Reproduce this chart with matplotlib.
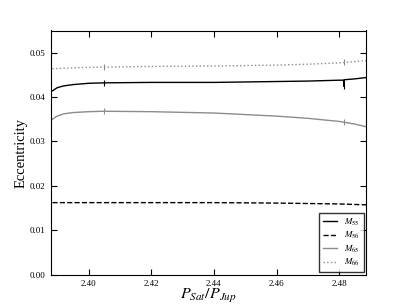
import matplotlib
matplotlib.use('Agg')
import matplotlib.pyplot as plt
import numpy as np

plt.rcParams['font.family'] = 'Liberation Serif'
plt.rcParams['mathtext.fontset'] = 'stix'

# period ratio samples
x55 = [2.3885, 2.390, 2.392, 2.395, 2.400, 2.405, 2.42, 2.44, 2.46, 2.47, 2.48, 2.4814, 2.4815, 2.4816, 2.485, 2.4886]
e55 = [0.0414, 0.0421, 0.0425, 0.0428, 0.0431, 0.0432, 0.0433, 0.0433, 0.0435, 0.0436, 0.0438, 0.0438, 0.0424, 0.0439, 0.0441, 0.0444]

x56 = [2.3885, 2.40, 2.42, 2.44, 2.46, 2.48, 2.4886]
e56 = [0.0162, 0.0162, 0.0162, 0.0162, 0.0161, 0.0159, 0.0157]

x65 = [2.3885, 2.390, 2.392, 2.395, 2.400, 2.405, 2.42, 2.44, 2.46, 2.47, 2.48, 2.485, 2.4886]
e65 = [0.0350, 0.0357, 0.0362, 0.0365, 0.0367, 0.0368, 0.0367, 0.0364, 0.0357, 0.0352, 0.0345, 0.0339, 0.0333]

x66 = [2.3885, 2.40, 2.42, 2.44, 2.46, 2.47, 2.48, 2.485, 2.4886]
e66 = [0.0464, 0.0467, 0.0469, 0.0470, 0.0472, 0.0474, 0.0477, 0.0480, 0.0482]

# short vertical marks along the curves
mark_x = [2.405, 2.4815]

fig = plt.figure(figsize=(4.07, 3.05), dpi=100)
ax = fig.add_axes([0.125, 0.10, 0.775, 0.80])

ax.plot(x55, e55, '-', color='black', lw=1.0, label='$M_{55}$')
ax.plot(x56, e56, '--', color='black', lw=1.0, label='$M_{56}$')
ax.plot(x65, e65, '-', color='0.55', lw=1.0, label='$M_{65}$')
ax.plot(x66, e66, ':', color='0.55', lw=1.0, label='$M_{66}$')

for xs, es, c in [(x55, e55, 'black'), (x65, e65, '0.55'), (x66, e66, '0.55')]:
    ax.plot(mark_x, np.interp(mark_x, xs, es), '|', color=c, ms=4, mew=0.8)

ax.set_xlim(2.388, 2.4886)
ax.set_ylim(0, 0.055)
ax.set_xticks([2.40, 2.42, 2.44, 2.46, 2.48])
ax.set_yticks([0.00, 0.01, 0.02, 0.03, 0.04, 0.05])
ax.tick_params(direction='in', top=True, right=True, labelsize=6.5, length=4, pad=4)
ax.set_xlabel('$P_{Sat}/P_{Jup}$', fontsize=11.5)
ax.set_ylabel('Eccentricity', fontsize=10.5)
ax.xaxis.set_label_coords(0.5, -0.05)
ax.yaxis.set_label_coords(-0.075, 0.5)

leg = ax.legend(loc='lower right', fontsize=6.5, fancybox=False, borderaxespad=0.3,
                handlelength=1.6, labelspacing=0.25)
leg.get_frame().set_edgecolor('black')

fig.savefig('out.png', dpi=100)
